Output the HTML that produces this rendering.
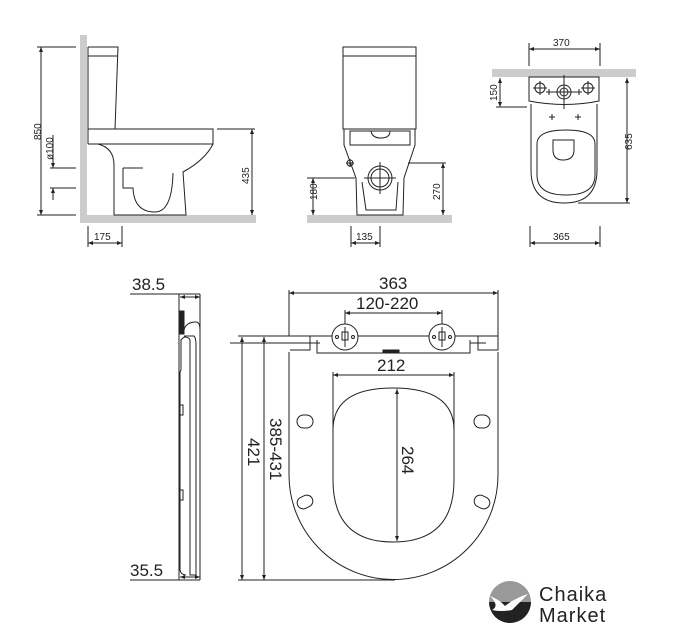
<!DOCTYPE html>
<html><head><meta charset="utf-8"><style>
html,body{margin:0;padding:0;background:#fff;}
svg{display:block;}
text{font-family:"Liberation Sans",sans-serif;fill:#222;}
</style></head><body>
<svg width="674" height="640" viewBox="0 0 674 640" xmlns="http://www.w3.org/2000/svg">
<defs>
<marker id="a" viewBox="0 0 10 10" refX="10" refY="5" markerWidth="5" markerHeight="5" orient="auto-start-reverse"><path d="M0,1 L10,5 L0,9 z" fill="#222"/></marker>
</defs>
<g stroke="#222" fill="none" stroke-width="1">
<!-- SIDE VIEW -->
<rect x="80" y="35" width="7" height="188" fill="#ccc" stroke="none"/>
<rect x="80" y="215" width="176" height="8" fill="#ccc" stroke="none"/>
<path d="M88,47 H118 L115,129 M88,56 H117 M88,47 V144"/>
<path d="M88,129 H213 V144 H88"/>
<path d="M98,144 Q114,148 114,165 V215 H186 L183,172 Q205,160 213,144"/>
<path d="M123,168 H143 M123,168 V188 H133 Q134,212 155,212 Q172,212 173,173"/>
<line x1="41" y1="47" x2="41" y2="215" marker-start="url(#a)" marker-end="url(#a)"/>
<path d="M37,47 H76 M37,215 H76"/>
<line x1="53" y1="135" x2="53" y2="168" marker-end="url(#a)"/>
<line x1="53" y1="200" x2="53" y2="188" marker-end="url(#a)"/>
<path d="M50,168 H76 M50,188 H76"/>
<line x1="252" y1="129" x2="252" y2="215" marker-start="url(#a)" marker-end="url(#a)"/>
<path d="M217,129 H255"/>
<line x1="88" y1="243" x2="122" y2="243" marker-start="url(#a)" marker-end="url(#a)"/>
<path d="M88,226 V247 M122,226 V247"/>
<!-- FRONT VIEW -->
<rect x="307" y="215" width="145" height="8" fill="#ccc" stroke="none"/>
<path d="M343,47 H416 V129 H343 Z M343,56 H416"/>
<path d="M350,131 H410 V145 H350 Z M371,131 Q372,138 381,138 Q390,138 390,131"/>
<path d="M344,129 V145 L356,178 L357,215 H403 L404,178 L415,145 V129"/>
<path d="M362,182 L366,210 H396 L398,182"/>
<circle cx="380" cy="178" r="12"/><circle cx="380" cy="178" r="9"/>
<path d="M380,162 V194 M364,178 H396"/>
<circle cx="350" cy="163" r="3"/><path d="M346,163 H354 M350,159 V167"/>
<line x1="313" y1="178" x2="313" y2="215" marker-start="url(#a)" marker-end="url(#a)"/>
<path d="M307,178 H355"/>
<line x1="443" y1="163" x2="443" y2="215" marker-start="url(#a)" marker-end="url(#a)"/>
<path d="M408,163 H446"/>
<line x1="351" y1="243" x2="380" y2="243" marker-start="url(#a)" marker-end="url(#a)"/>
<path d="M351,226 V247 M380,226 V247"/>
<!-- TOP VIEW -->
<rect x="492" y="69" width="144" height="8" fill="#ccc" stroke="none"/>
<path d="M529,77 H599 V101 Q565,108 529,101 Z"/>
<path d="M531,104 V170 Q531,203 564,203 Q597,203 597,170 V104"/>
<path d="M537,144 Q537,130 566,130 Q595,130 595,144 V175 Q595,195 566,195 Q537,195 537,175 Z"/>
<path d="M553,140 H574 V150 Q574,160 563,160 Q553,160 553,150 Z"/>
<circle cx="564" cy="92" r="7"/><circle cx="564" cy="92" r="4"/>
<path d="M564,75 V109 M552,92 H576"/>
<circle cx="540" cy="88" r="5"/><path d="M533,88 H547 M540,81 V95"/>
<circle cx="588" cy="88" r="5"/><path d="M581,88 H595 M588,81 V95"/>
<path d="M546,92 h6 M549,89 v6 M576,92 h6 M579,89 v6 M549,117 h6 M552,114 v6 M575,117 h6 M578,114 v6"/>
<line x1="529" y1="49" x2="600" y2="49" marker-start="url(#a)" marker-end="url(#a)"/>
<path d="M529,43 V66 M600,43 V66"/>
<line x1="500" y1="78" x2="500" y2="107" marker-start="url(#a)" marker-end="url(#a)"/>
<path d="M496,107 H527"/>
<line x1="627" y1="78" x2="627" y2="203" marker-start="url(#a)" marker-end="url(#a)"/>
<path d="M578,203 H630"/>
<line x1="530" y1="243" x2="600" y2="243" marker-start="url(#a)" marker-end="url(#a)"/>
<path d="M530,226 V247 M600,226 V247"/>
<!-- SEAT TOP -->
<line x1="289" y1="293" x2="498" y2="293" marker-start="url(#a)" marker-end="url(#a)"/>
<path d="M289,290 V336 M498,290 V336"/>
<line x1="345" y1="313" x2="442" y2="313" marker-start="url(#a)" marker-end="url(#a)"/>
<path d="M345,310 V330 M442,310 V330"/>
<path d="M290,336 H498 V350 H478 V336 M310,336 V350 H290 M317,340 V353 H470 V340"/>
<path d="M230,343 H320 M470,343 H486"/>
<path d="M383,352 h16 v-2 h-16 z" fill="#222"/>
<circle cx="345" cy="337" r="13" fill="#fff"/><circle cx="442" cy="337" r="13" fill="#fff"/>
<path d="M345,327 V347 M342,332 h6 v8 h-6 z M442,327 V347 M439,332 h6 v8 h-6 z"/>
<circle cx="337" cy="337" r="1.5"/><circle cx="353" cy="337" r="1.5"/><circle cx="434" cy="337" r="1.5"/><circle cx="450" cy="337" r="1.5"/>
<path d="M289,352 V475 A104.5,104.5 0 0 0 498,475 V352"/>
<path d="M333,430 Q333,388 393,388 Q454,388 454,430 V480 Q454,542 393,542 Q333,542 333,480 Z"/>
<line x1="333" y1="375" x2="454" y2="375" marker-start="url(#a)" marker-end="url(#a)"/>
<path d="M333,372 V470 M454,372 V470"/>
<line x1="397" y1="389" x2="397" y2="541" marker-start="url(#a)" marker-end="url(#a)"/>
<rect x="297" y="415" width="16" height="13" rx="6.5"/>
<rect x="474" y="415" width="16" height="13" rx="6.5"/>
<rect x="297" y="496" width="16" height="12" rx="6" transform="rotate(-25 305 502)"/>
<rect x="474" y="496" width="16" height="12" rx="6" transform="rotate(25 482 502)"/>
<line x1="242" y1="337" x2="242" y2="580" marker-start="url(#a)" marker-end="url(#a)"/>
<line x1="264" y1="337" x2="264" y2="580" marker-start="url(#a)" marker-end="url(#a)"/>
<path d="M238,336 H290 M238,580 H395"/>
<!-- SEAT SIDE -->
<path d="M130,294 H200 M130,580 H200"/>
<line x1="180" y1="297" x2="200" y2="297" marker-start="url(#a)" marker-end="url(#a)"/>
<line x1="180" y1="577" x2="200" y2="577" marker-start="url(#a)" marker-end="url(#a)"/>
<path d="M179,294 V580 M200,294 V580"/>
<path d="M180,311 h4 v23 h-4 z" fill="#222"/>
<path d="M184,330 Q186,322 196,322 Q200,322 200,330 M184,336 H194 Q196,338 196,345 V575 H190 V340 Q189,337 184,337 M184,337 L181,340 V370 L180,372 V570 Q181,575 186,575"/>
<path d="M180,405 h3 v10 h-3 z M180,490 h3 v10 h-3 z"/>
</g>
<g font-size="10">
<text transform="translate(41,140) rotate(-90)">850</text>
<text transform="translate(53,160) rotate(-90)">ø100</text>
<text transform="translate(249,184) rotate(-90)">435</text>
<text x="94" y="240">175</text>
<text transform="translate(317,200) rotate(-90)">180</text>
<text transform="translate(440,200) rotate(-90)">270</text>
<text x="356" y="240">135</text>
<text x="553" y="46">370</text>
<text transform="translate(497,101) rotate(-90)">150</text>
<text transform="translate(632,150) rotate(-90)">635</text>
<text x="553" y="240">365</text>
</g>
<g font-size="17">
<text x="379" y="289">363</text>
<text x="356" y="309">120-220</text>
<text x="377" y="371">212</text>
<text transform="translate(402,446) rotate(90)">264</text>
<text transform="translate(248,438) rotate(90)">421</text>
<text transform="translate(270,418) rotate(90)">385-431</text>
<text x="132" y="290">38.5</text>
<text x="130" y="576">35.5</text>
</g>
<circle cx="510" cy="602" r="21" fill="#999"/>
<path d="M489,602 A21,21 0 0 0 531,602 Z" fill="#222"/>
<path d="M490,596 Q500,600 505,606 Q515,598 528,594 Q520,602 512,610 Q500,612 492,610 Q500,606 490,596 Z" fill="#fff"/>
<text x="539" y="601" font-size="20" letter-spacing="1" style="fill:#222">Chaika</text>
<text x="539" y="622" font-size="20" letter-spacing="1" style="fill:#222">Market</text>
</svg>
</body></html>
